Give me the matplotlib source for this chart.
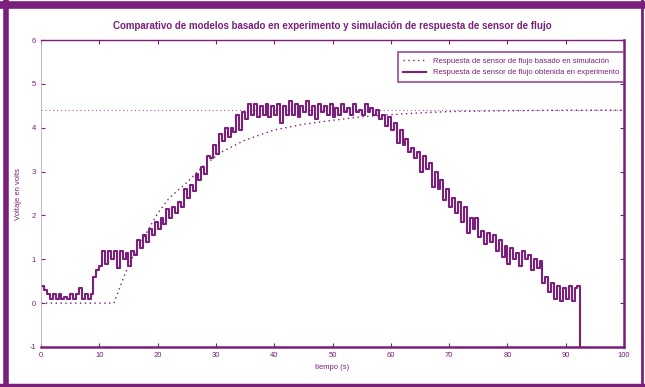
import numpy as np
import matplotlib
matplotlib.use("Agg")
import matplotlib.pyplot as plt
from matplotlib.lines import Line2D

plt.rcParams.update({
    "font.family": ["Liberation Sans", "DejaVu Sans"],
    "axes.unicode_minus": False,
})

PURPLE = "#7a1f7c"
LIGHT = "#c9a3cb"

exp_t = np.arange(0, 93, 0.5)
exp_v = [
    0.4, 0.3, 0.2, 0.1, 0.2, 0.1, 0.2, 0.1, 0.15, 0.1,
    0.2, 0.1, 0.2, 0.35, 0.1, 0.2, 0.1, 0.2, 0.6, 0.75,
    0.85, 1.2, 0.9, 1.2, 1.0, 1.2, 0.8, 1.2, 1.0, 1.15,
    0.85, 1.2, 1.1, 1.45, 1.25, 1.55, 1.4, 1.7, 1.55, 1.85,
    1.7, 1.95, 1.8, 2.15, 1.95, 2.2, 2.05, 2.3, 2.2, 2.6,
    2.4, 2.7, 2.55, 2.95, 2.8, 3.1, 2.95, 3.35, 3.3, 3.6,
    3.4, 3.85, 3.7, 4.0, 3.8, 4.0, 3.9, 4.3, 3.95, 4.35,
    4.2, 4.55, 4.3, 4.55, 4.25, 4.5, 4.3, 4.55, 4.25, 4.5,
    4.3, 4.55, 4.1, 4.5, 4.3, 4.6, 4.3, 4.55, 4.25, 4.5,
    4.35, 4.6, 4.3, 4.5, 4.2, 4.55, 4.35, 4.5, 4.3, 4.55,
    4.25, 4.45, 4.3, 4.55, 4.35, 4.45, 4.3, 4.55, 4.35, 4.4,
    4.3, 4.55, 4.35, 4.45, 4.3, 4.4, 4.2, 4.3, 4.05, 4.25,
    3.95, 4.1, 3.65, 3.95, 3.6, 3.75, 3.45, 3.55, 3.3, 3.45,
    3.0, 3.35, 3.05, 3.2, 2.65, 3.0, 2.6, 2.8, 2.35, 2.6,
    2.2, 2.4, 2.05, 2.3, 1.85, 2.2, 1.6, 1.95, 1.7, 1.95,
    1.5, 1.65, 1.35, 1.6, 1.4, 1.55, 1.2, 1.45, 1.05, 1.3,
    0.9, 1.25, 1.0, 1.15, 0.85, 1.2, 1.0, 1.1, 0.75, 1.0,
    0.8, 0.95, 0.45, 0.6, 0.25, 0.45, 0.1, 0.4, 0.05, 0.35,
    0.1, 0.4, 0.05, 0.35, 0.4, -1.0,
]

# Simulated response
sim_t = [0, 12.5, 13.5, 14.5, 15.5, 17, 18.5, 20, 22, 25, 28, 31, 35, 40,
         45, 50, 55, 60, 65, 70, 80, 90, 100]
sim_v = [0, 0, 0.35, 0.7, 1.0, 1.35, 1.7, 2.05, 2.4, 2.75, 3.15, 3.45, 3.72,
         3.95, 4.08, 4.17, 4.25, 4.3, 4.34, 4.37, 4.39, 4.4, 4.4]

setpoint = 4.4
x_ticks = [0, 10, 20, 30, 40, 50, 60, 70, 80, 90, 100]
y_ticks = [-1, 0, 1, 2, 3, 4, 5, 6]

fig = plt.figure(figsize=(6.45, 3.87), dpi=100)
ax = fig.add_axes([0.0636, 0.1034, 0.904, 0.793])

ax.axhline(setpoint, color=PURPLE, lw=0.8, ls=(0, (1, 2.5)), alpha=0.7)
ax.plot(sim_t, sim_v, color=PURPLE, lw=1.0, ls=(0, (1, 2.5)),
        label="Respuesta de sensor de flujo basado en simulación")
ax.plot(exp_t, exp_v, color=PURPLE, lw=1.5, drawstyle="steps-post",
        label="Respuesta de sensor de flujo obtenida en experimento")

ax.set_xlim(0, 100)
ax.set_ylim(-1, 6)
ax.set_xticks(x_ticks)
ax.set_yticks(y_ticks)
ax.tick_params(direction="in", top=True, right=True, labelsize=5.5,
               colors=PURPLE, length=3, width=0.8)

for side, lw, col in [("left", 0.6, LIGHT), ("top", 1.0, PURPLE),
                      ("right", 1.8, PURPLE), ("bottom", 1.8, PURPLE)]:
    ax.spines[side].set_linewidth(lw)
    ax.spines[side].set_color(col)

ax.set_title("Comparativo de modelos basado en experimento y simulación de "
             "respuesta de sensor de flujo", fontsize=7, color=PURPLE,
             fontweight="bold", pad=8)
ax.set_xlabel("tiempo (s)", fontsize=5.5, color=PURPLE, labelpad=4)
ax.set_ylabel("Voltaje en volts", fontsize=5.5, color=PURPLE, labelpad=5)

leg = ax.legend(loc="upper right", bbox_to_anchor=(1.0, 0.96),
                borderaxespad=0, fontsize=5.5, frameon=True, fancybox=False,
                handlelength=3, labelcolor=PURPLE, borderpad=0.7)
leg.get_frame().set_edgecolor(PURPLE)
leg.get_frame().set_linewidth(1.2)

# outer frame: heavy top and left, thinner right and bottom
for xs, ys, lw in [([0.0, 1.0], [0.987, 0.987], 5.5),
                   ([0.009, 0.009], [0.0, 1.0], 4.0),
                   ([0.996, 0.996], [0.0, 1.0], 2.0),
                   ([0.0, 1.0], [0.006, 0.006], 2.5)]:
    fig.add_artist(Line2D(xs, ys, transform=fig.transFigure,
                          color=PURPLE, lw=lw))

fig.savefig("out.png", dpi=100)
